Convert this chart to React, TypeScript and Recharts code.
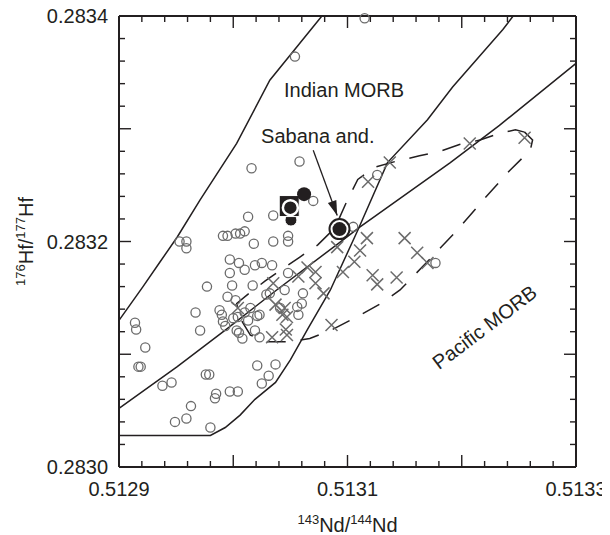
import React from 'react';
import { ScatterChart, Scatter, XAxis, YAxis } from 'recharts';

const FONT = '"Liberation Sans", Arial, Helvetica, sans-serif';
const INK = '#231f20';
const GREY = '#6b6b6b';

// axis ticks
const xTicks = [0.5129, 0.51292, 0.51294, 0.51296, 0.51298, 0.513, 0.51302, 0.51304, 0.51306, 0.51308, 0.5131, 0.51312, 0.51314, 0.51316, 0.51318, 0.5132, 0.51322, 0.51324, 0.51326, 0.51328, 0.5133];
const xMajorTicks = [0.513, 0.5131, 0.5132];
const xLabelTicks = [0.5129, 0.5131, 0.5133];
const yTicks = [0.283, 0.28302, 0.28304, 0.28306, 0.28308, 0.2831, 0.28312, 0.28314, 0.28316, 0.28318, 0.2832, 0.28322, 0.28324, 0.28326, 0.28328, 0.2833, 0.28332, 0.28334, 0.28336, 0.28338, 0.2834];
const yMajorTicks = [0.2831, 0.2832, 0.2833];
const yLabelTicks = [0.283, 0.2832, 0.2834];
const xDomain: [number, number] = [0.5129, 0.5133];
const yDomain: [number, number] = [0.283, 0.2834];

// Indian MORB samples (open circles)
const indianCircles: [number, number][] = [
  [0.513054, 0.283364], [0.513115, 0.283398], [0.513016, 0.283265], [0.513058, 0.283271], [0.51307, 0.283236],
  [0.513013, 0.283222], [0.513035, 0.283223], [0.512953, 0.2832], [0.512959, 0.2832], [0.512959, 0.283194],
  [0.512991, 0.283205], [0.512995, 0.283205], [0.513002, 0.283207], [0.513006, 0.283207], [0.51301, 0.283209],
  [0.513018, 0.283198], [0.513035, 0.2832], [0.513048, 0.283205], [0.513048, 0.2832], [0.512997, 0.283184],
  [0.513005, 0.283181], [0.51301, 0.283175], [0.513019, 0.283179], [0.513025, 0.283181], [0.513034, 0.283179],
  [0.512997, 0.283172], [0.512999, 0.283161], [0.513017, 0.283161], [0.512977, 0.28316], [0.513048, 0.283172],
  [0.513029, 0.283153], [0.513032, 0.283154], [0.513045, 0.283157], [0.513061, 0.283154], [0.512995, 0.283151],
  [0.513002, 0.283148], [0.512967, 0.283137], [0.512988, 0.283139], [0.51299, 0.283135], [0.512993, 0.283125],
  [0.512991, 0.283129], [0.513, 0.283132], [0.513004, 0.283133], [0.513013, 0.28313], [0.51301, 0.283137],
  [0.513015, 0.283141], [0.513021, 0.283134], [0.513023, 0.283135], [0.513041, 0.283141], [0.513056, 0.283142],
  [0.51306, 0.283145], [0.513057, 0.283135], [0.512914, 0.283128], [0.512915, 0.283122], [0.512971, 0.283121],
  [0.513003, 0.283121], [0.513005, 0.283119], [0.513008, 0.283114], [0.513019, 0.283121], [0.513023, 0.283115],
  [0.512923, 0.283106], [0.512917, 0.283089], [0.512919, 0.283089], [0.512976, 0.283082], [0.512979, 0.283082],
  [0.513021, 0.28309], [0.513037, 0.283091], [0.513031, 0.283081], [0.513025, 0.283074], [0.512938, 0.283072],
  [0.512946, 0.283075], [0.512985, 0.283065], [0.512984, 0.283061], [0.512997, 0.283067], [0.513004, 0.283067],
  [0.512963, 0.283054], [0.512959, 0.283043], [0.512949, 0.28304], [0.51298, 0.283035], [0.513126, 0.283259],
  [0.513105, 0.283213], [0.513177, 0.283181],
];

// Pacific MORB samples (crosses)
const pacificCrosses: [number, number][] = [
  [0.513255, 0.283292], [0.513207, 0.283287], [0.513137, 0.28327], [0.513118, 0.283253], [0.513117, 0.283203],
  [0.51315, 0.283203], [0.513111, 0.283192], [0.513161, 0.28319], [0.513106, 0.283182], [0.51317, 0.283181],
  [0.513122, 0.28317], [0.513143, 0.283168], [0.513126, 0.283162], [0.513091, 0.283195], [0.513096, 0.283173],
  [0.513086, 0.283126], [0.513072, 0.283173], [0.513072, 0.283163], [0.513065, 0.283177], [0.513057, 0.283169],
  [0.513079, 0.283154], [0.513035, 0.283163], [0.513037, 0.283144], [0.513045, 0.283141], [0.513043, 0.283135],
  [0.513047, 0.283133], [0.513034, 0.283115], [0.513047, 0.283117], [0.513046, 0.283122], [0.513004, 0.283141],
];

// field boundaries
const indianUpperBoundary: [number, number][] = [
  [0.5130776, 0.2834], [0.513032, 0.283343], [0.513003, 0.283287], [0.512971, 0.283237], [0.512951, 0.283204],
  [0.512936, 0.283182], [0.512921, 0.28316], [0.5129, 0.28313],
];
const dividingLine: [number, number][] = [
  [0.5129, 0.283052], [0.512951, 0.283089], [0.512995, 0.283123], [0.513038, 0.283157], [0.513093, 0.283199],
  [0.513111, 0.283213], [0.51319, 0.28327], [0.513233, 0.283303], [0.5133, 0.283358],
];
const lowerBoundary: [number, number][] = [
  [0.5129, 0.283028], [0.51298, 0.283028], [0.512993, 0.283035], [0.513006, 0.283046], [0.513019, 0.28306],
  [0.513037, 0.283075], [0.51305, 0.283095], [0.513065, 0.283122], [0.513085, 0.283157], [0.513109, 0.28321],
  [0.513135, 0.28327], [0.51317, 0.283308], [0.513192, 0.283337], [0.513236, 0.283388], [0.513245, 0.2834],
];
const pacificField: [number, number][] = [
  [0.513255, 0.283297], [0.513262, 0.28329], [0.51326, 0.283281], [0.513242, 0.283263], [0.513219, 0.283237],
  [0.513196, 0.28321], [0.513181, 0.283194], [0.513166, 0.283178], [0.513146, 0.283157], [0.513131, 0.283146],
  [0.513108, 0.283133], [0.513087, 0.283122], [0.513067, 0.283114], [0.51305, 0.283111], [0.51303, 0.283111],
  [0.513015, 0.283117], [0.513006, 0.283132], [0.513003, 0.283145], [0.513015, 0.283155], [0.513028, 0.283165],
  [0.513045, 0.283177], [0.513058, 0.283186], [0.513074, 0.283197], [0.513089, 0.283212], [0.5131, 0.283237],
  [0.513109, 0.283255], [0.513124, 0.283266], [0.513142, 0.283271], [0.513163, 0.283276], [0.513181, 0.28328],
  [0.513198, 0.283286], [0.513216, 0.28329], [0.513233, 0.283296], [0.513247, 0.283299], [0.513255, 0.283297],
];

// Sabana samples
const sabanaAndesite: [number, number][] = [[0.513093, 0.283211]];
const filledCircles: [number, number][] = [[0.513062, 0.283242]];
const hiddenCircle: [number, number][] = [[0.5130505, 0.283219]];
const squareSample: [number, number][] = [[0.513049, 0.283231]];
const ringedCircle: [number, number][] = [[0.51305, 0.28323]];
const arrowPath: [number, number][] = [[0.51307, 0.283281], [0.513091, 0.283223]];

// annotations
const annotations = [
  { x: 0.513097, y: 0.283328, text: 'Indian MORB' },
  { x: 0.513074, y: 0.283287, text: 'Sabana and.' },
];
const pacificLabel = [{ x: 0.51322, y: 0.283124, text: 'Pacific MORB' }];

const pts = (arr: [number, number][]) => arr.map(([x, y]) => ({ x, y }));
const near = (a: number, b: number) => Math.abs(a - b) < 1e-9;

const S_upper = pts(indianUpperBoundary);
const S_divide = pts(dividingLine);
const S_lower = pts(lowerBoundary);
const S_pacField = pts(pacificField);
const S_circles = pts(indianCircles);
const S_crosses = pts(pacificCrosses);
const S_hidden = pts(hiddenCircle);
const S_square = pts(squareSample);
const S_ringed = pts(ringedCircle);
const S_filled = pts(filledCircles);
const S_sabana = pts(sabanaAndesite);
const S_arrow = pts(arrowPath);
const S_arrowHead = pts([arrowPath[1]]);

// frame sides, tick marks and axis-title anchors derived from the domains and tick arrays
const frameBottom = pts([[xDomain[0], yDomain[0]], [xDomain[1], yDomain[0]]]);
const frameTop = pts([[xDomain[0], yDomain[1]], [xDomain[1], yDomain[1]]]);
const frameLeft = pts([[xDomain[0], yDomain[0]], [xDomain[0], yDomain[1]]]);
const frameRight = pts([[xDomain[1], yDomain[0]], [xDomain[1], yDomain[1]]]);
const bottomMarks = xTicks.map((v) => ({ x: v, y: yDomain[0], len: xMajorTicks.some((m) => near(m, v)) ? 12 : 6 }));
const topMarks = xTicks.map((v) => ({ x: v, y: yDomain[1], len: xMajorTicks.some((m) => near(m, v)) ? 12 : 6 }));
const leftMarks = yTicks.map((v) => ({ x: xDomain[0], y: v, len: yMajorTicks.some((m) => near(m, v)) ? 12 : 6 }));
const rightMarks = yTicks.map((v) => ({ x: xDomain[1], y: v, len: yMajorTicks.some((m) => near(m, v)) ? 12 : 6 }));
const xTitleAnchor = [{ x: (xDomain[0] + xDomain[1]) / 2, y: yDomain[0] }];
const yTitleAnchor = [{ x: xDomain[0], y: (yDomain[0] + yDomain[1]) / 2 }];

const noShape = () => <g />;
const BottomMark = (p: any) => <line x1={p.cx} y1={p.cy} x2={p.cx} y2={p.cy - p.payload.len} stroke={INK} strokeWidth={1.4} />;
const TopMark = (p: any) => <line x1={p.cx} y1={p.cy} x2={p.cx} y2={p.cy + p.payload.len} stroke={INK} strokeWidth={1.4} />;
const LeftMark = (p: any) => <line x1={p.cx} y1={p.cy} x2={p.cx + p.payload.len} y2={p.cy} stroke={INK} strokeWidth={1.4} />;
const RightMark = (p: any) => <line x1={p.cx} y1={p.cy} x2={p.cx - p.payload.len} y2={p.cy} stroke={INK} strokeWidth={1.4} />;

const XTitleShape = (p: any) => (
  <text x={p.cx} y={p.cy + 65} textAnchor="middle" fontFamily={FONT} fontSize={20} fill={INK}>
    <tspan fontSize={13} dy={-8}>143</tspan>
    <tspan dy={8}>Nd/</tspan>
    <tspan fontSize={13} dy={-8}>144</tspan>
    <tspan dy={8}>Nd</tspan>
  </text>
);
const YTitleShape = (p: any) => {
  const bx = p.cx - 86;
  const cy = p.cy;
  return (
    <text x={bx} y={cy} textAnchor="middle" fontFamily={FONT} fontSize={20} fill={INK}
      transform={`rotate(-90, ${bx}, ${cy})`}>
      <tspan fontSize={13} dy={-8}>176</tspan>
      <tspan dy={8}>Hf/</tspan>
      <tspan fontSize={13} dy={-8}>177</tspan>
      <tspan dy={8}>Hf</tspan>
    </text>
  );
};

const OpenCircle = (p: any) => (
  <circle cx={p.cx} cy={p.cy} r={4.6} fill="none" stroke={GREY} strokeWidth={1.3} />
);
const Cross = (p: any) => (
  <path d={`M${p.cx - 6},${p.cy - 6}L${p.cx + 6},${p.cy + 6}M${p.cx - 6},${p.cy + 6}L${p.cx + 6},${p.cy - 6}`} stroke={GREY} strokeWidth={1.5} fill="none" />
);
const SabanaMark = (p: any) => (
  <g>
    <circle cx={p.cx} cy={p.cy} r={10} fill="#fff" stroke={INK} strokeWidth={2} />
    <circle cx={p.cx} cy={p.cy} r={7} fill={INK} />
  </g>
);
const FilledCircle = (p: any) => <circle cx={p.cx} cy={p.cy} r={7} fill={INK} />;
const HiddenCircle = (p: any) => <circle cx={p.cx} cy={p.cy} r={6} fill={INK} stroke="#fff" strokeWidth={1} />;
const SquareMark = (p: any) => (
  <rect x={p.cx - 10} y={p.cy - 11} width={20} height={21} fill={INK} stroke="#fff" strokeWidth={1} />
);
const RingedCircle = (p: any) => <circle cx={p.cx} cy={p.cy} r={7.5} fill={INK} stroke="#fff" strokeWidth={2.5} />;
const ArrowHead = (p: any) => (
  <polygon points="0,0 -15,-4.5 -15,4.5" fill={INK} transform={`translate(${p.cx},${p.cy}) rotate(70)`} />
);
const AnnotationText = (p: any) => (
  <text x={p.cx} y={p.cy} textAnchor="middle" fontFamily={FONT} fontSize={20} fill={INK}>
    {p.payload.text}
  </text>
);
const RotatedText = (p: any) => (
  <text x={p.cx} y={p.cy} textAnchor="middle" dominantBaseline="central" fontFamily={FONT} fontSize={20} fill={INK}
    transform={`rotate(-37, ${p.cx}, ${p.cy})`}>
    {p.payload.text}
  </text>
);

const makeLabelTick = (side: 'bottom' | 'left', labels: number[]) => (props: any) => {
  const x = Number(props.x);
  const y = Number(props.y);
  const v = Number(props.payload?.value);
  if (!labels.some((m) => near(m, v))) return <g />;
  if (side === 'bottom') {
    return <text x={x} y={y + 29} textAnchor="middle" fontFamily={FONT} fontSize={20} fill={INK}>{v.toFixed(4)}</text>;
  }
  return <text x={x - 11} y={y + 7} textAnchor="end" fontFamily={FONT} fontSize={20} fill={INK}>{v.toFixed(4)}</text>;
};
const bottomTick = makeLabelTick('bottom', xLabelTicks);
const leftTick = makeLabelTick('left', yLabelTicks);

const solid = { stroke: INK, strokeWidth: 1.5 };
const dashed = { stroke: INK, strokeWidth: 1.5, strokeDasharray: '19 15' };
const frameLine = { stroke: INK, strokeWidth: 2 };
const arrowLine = { stroke: INK, strokeWidth: 1.3 };
const axisFrame = { stroke: INK, strokeWidth: 2 };

export default function App() {
  return (
    <div style={{ width: 602, height: 527 }}>
      <ScatterChart width={602} height={527} margin={{ top: 8, right: 34, bottom: 0, left: 0 }}>
        <XAxis type="number" dataKey="x" domain={xDomain} ticks={xTicks}
          interval={0} tickSize={0} tickMargin={0} tickLine={false} axisLine={axisFrame} height={68}
          tick={bottomTick} />
        <YAxis type="number" dataKey="y" domain={yDomain} ticks={yTicks}
          interval={0} tickSize={0} tickMargin={0} tickLine={false} axisLine={axisFrame} width={111}
          tick={leftTick} />

        <Scatter data={frameBottom} line={frameLine} lineType="joint" shape={noShape} isAnimationActive={false} />
        <Scatter data={frameTop} line={frameLine} lineType="joint" shape={noShape} isAnimationActive={false} />
        <Scatter data={frameLeft} line={frameLine} lineType="joint" shape={noShape} isAnimationActive={false} />
        <Scatter data={frameRight} line={frameLine} lineType="joint" shape={noShape} isAnimationActive={false} />
        <Scatter data={bottomMarks} shape={BottomMark} isAnimationActive={false} />
        <Scatter data={topMarks} shape={TopMark} isAnimationActive={false} />
        <Scatter data={leftMarks} shape={LeftMark} isAnimationActive={false} />
        <Scatter data={rightMarks} shape={RightMark} isAnimationActive={false} />

        <Scatter data={S_upper} line={solid} lineType="joint" shape={noShape} isAnimationActive={false} />
        <Scatter data={S_divide} line={solid} lineType="joint" shape={noShape} isAnimationActive={false} />
        <Scatter data={S_lower} line={solid} lineType="joint" shape={noShape} isAnimationActive={false} />
        <Scatter data={S_pacField} line={dashed} lineType="joint" shape={noShape} isAnimationActive={false} />

        <Scatter data={S_circles} shape={OpenCircle} isAnimationActive={false} />
        <Scatter data={S_crosses} shape={Cross} isAnimationActive={false} />

        <Scatter data={S_hidden} shape={HiddenCircle} isAnimationActive={false} />
        <Scatter data={S_square} shape={SquareMark} isAnimationActive={false} />
        <Scatter data={S_ringed} shape={RingedCircle} isAnimationActive={false} />
        <Scatter data={S_filled} shape={FilledCircle} isAnimationActive={false} />
        <Scatter data={S_sabana} shape={SabanaMark} isAnimationActive={false} />

        <Scatter data={S_arrow} line={arrowLine} lineType="joint" shape={noShape} isAnimationActive={false} />
        <Scatter data={S_arrowHead} shape={ArrowHead} isAnimationActive={false} />

        <Scatter data={annotations} shape={AnnotationText} isAnimationActive={false} />
        <Scatter data={pacificLabel} shape={RotatedText} isAnimationActive={false} />
        <Scatter data={xTitleAnchor} shape={XTitleShape} isAnimationActive={false} />
        <Scatter data={yTitleAnchor} shape={YTitleShape} isAnimationActive={false} />
      </ScatterChart>
    </div>
  );
}
